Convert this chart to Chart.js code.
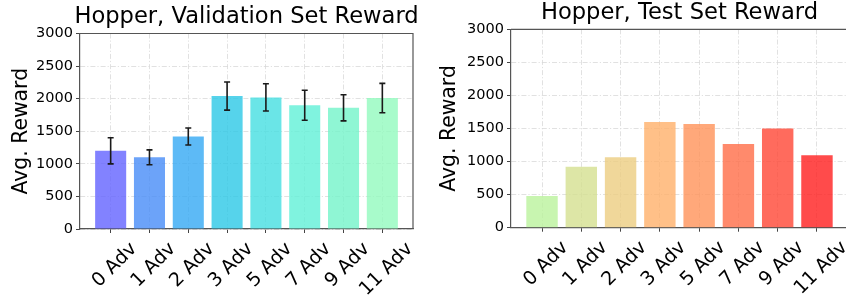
<!DOCTYPE html>
<html><head><meta charset="utf-8">
<script src="https://cdn.jsdelivr.net/npm/chart.js@4"></script>
<style>
html,body{margin:0;padding:0;background:#fff;overflow:hidden;width:846px;height:300px;position:relative;}
#c1{position:absolute;left:0;top:0;}
#c2{position:absolute;left:423px;top:0;}
</style></head><body>
<canvas id="c1" width="423" height="300"></canvas>
<canvas id="c2" width="430" height="300"></canvas>
<script>
// ---- data ----
const categories = ['0 Adv', '1 Adv', '2 Adv', '3 Adv', '5 Adv', '7 Adv', '9 Adv', '11 Adv'];
const validationReward = [1200, 1100, 1420, 2040, 2020, 1900, 1860, 2010];
const validationError = [200, 115, 130, 215, 210, 230, 200, 225];
const testReward = [480, 920, 1065, 1600, 1570, 1265, 1500, 1095];
const yTickValues = [0, 500, 1000, 1500, 2000, 2500, 3000];

// ---- styles ----
const valColors = ['rgba(99,99,255,0.8)', 'rgba(71,140,248,0.8)', 'rgba(53,169,244,0.8)', 'rgba(44,200,230,0.8)',
  'rgba(69,223,225,0.8)', 'rgba(96,240,215,0.8)', 'rgba(115,244,201,0.8)', 'rgba(146,250,190,0.8)'];
const testColors = ['rgba(186,243,156,0.8)', 'rgba(213,224,144,0.8)', 'rgba(236,205,129,0.8)', 'rgba(255,176,106,0.8)',
  'rgba(255,146,89,0.8)', 'rgba(255,109,71,0.8)', 'rgba(255,70,53,0.8)', 'rgba(255,30,30,0.8)'];
const FONT = 'DejaVu Sans';
const XFONT = 19;

const mctx = document.createElement('canvas').getContext('2d');

// centre the title over the plot area (matplotlib axes title), without squeezing it
const centerTitle = {
  id: 'centerTitle',
  afterLayout(chart) {
    const t = chart.titleBlock, a = chart.chartArea;
    if (!t) return;
    const c = (a.left + a.right) / 2;
    t.left = c - 210;
    t.right = c + 210;
  }
};

// centre each rotated x label's box on its tick (matplotlib ha='center')
const centerLabels = {
  id: 'centerLabels',
  beforeDraw(chart) {
    const s = chart.scales.x;
    const items = s.getLabelItems(chart.chartArea);
    if (items._centered) return;
    items._centered = true;
    mctx.font = XFONT + 'px "' + FONT + '"';
    items.forEach(it => {
      const w = mctx.measureText(String(it.label)).width;
      it.options.translation[0] += 0.354 * (w + 1.2 * XFONT) - 4;
    });
  }
};

const frame = {
  id: 'frame',
  afterDraw(chart) {
    const {ctx, chartArea: a} = chart;
    ctx.save();
    ctx.strokeStyle = '#555';
    ctx.lineWidth = 1.2;
    ctx.beginPath();
    ctx.moveTo(a.left, a.top);
    ctx.lineTo(a.right, a.top);
    ctx.lineTo(a.right, a.bottom);
    ctx.stroke();
    ctx.restore();
  }
};

const errorBars = {
  id: 'errorBars',
  afterDatasetsDraw(chart, args, opts) {
    if (!opts.errors) return;
    const meta = chart.getDatasetMeta(0);
    const ys = chart.scales.y;
    const ctx = chart.ctx;
    ctx.save();
    ctx.strokeStyle = '#1a1a1a';
    ctx.lineWidth = 1.6;
    meta.data.forEach((bar, i) => {
      const v = chart.data.datasets[0].data[i].y;
      const e = opts.errors[i];
      const t = ys.getPixelForValue(v + e), b = ys.getPixelForValue(v - e);
      ctx.beginPath();
      ctx.moveTo(bar.x, t); ctx.lineTo(bar.x, b);
      ctx.moveTo(bar.x - 3, t); ctx.lineTo(bar.x + 3, t);
      ctx.moveTo(bar.x - 3, b); ctx.lineTo(bar.x + 3, b);
      ctx.stroke();
    });
    ctx.restore();
  }
};

function makeChart(id, cfg) {
  const gridOpts = {color: '#d9d9d9', lineWidth: 0.8, tickColor: '#444', tickLength: 4, tickWidth: 1, tickBorderDash: []};
  const borderOpts = {display: true, color: '#555', width: 1.2, dash: [5, 2, 1.2, 2]};
  return new Chart(document.getElementById(id), {
    type: 'bar',
    data: {
      datasets: [{
        data: cfg.values.map((v, i) => ({x: i, y: v})),
        backgroundColor: cfg.colors,
        borderWidth: 0,
        barPercentage: 0.8,
        categoryPercentage: 1.0
      }]
    },
    options: {
      responsive: false,
      animation: false,
      devicePixelRatio: 1,
      layout: {padding: {left: 0, right: cfg.padRight, top: 0, bottom: 0}},
      plugins: {
        legend: {display: false},
        tooltip: {enabled: false},
        title: {
          display: true, text: cfg.title, color: '#000',
          font: {family: FONT, size: 22.6, weight: 'normal'},
          padding: cfg.titlePad
        },
        errorBars: {errors: cfg.errors}
      },
      scales: {
        x: {
          type: 'linear', min: -0.79, max: 7.79, offset: false,
          afterBuildTicks: s => { s.ticks = categories.map((_, i) => ({value: i})); },
          afterFit: s => { s.height = cfg.xHeight; },
          grid: Object.assign({offset: false}, gridOpts),
          border: borderOpts,
          ticks: {
            autoSkip: false, minRotation: 45, maxRotation: 45, padding: 5, color: '#000',
            font: {family: FONT, size: XFONT},
            callback: v => categories[v]
          }
        },
        y: {
          min: 0, max: 3000,
          afterBuildTicks: s => { s.ticks = yTickValues.map(v => ({value: v})); },
          afterFit: s => { s.width = cfg.yWidth; },
          grid: gridOpts,
          border: borderOpts,
          ticks: {padding: 3, color: '#000', font: {family: FONT, size: 14.5}, callback: v => String(v)},
          title: {
            display: true, text: 'Avg. Reward', color: '#000',
            font: {family: FONT, size: 20.4},
            padding: {top: cfg.yTitlePad, bottom: 0}
          }
        }
      }
    },
    plugins: [centerTitle, errorBars, frame, centerLabels]
  });
}

makeChart('c1', {
  title: 'Hopper, Validation Set Reward', values: validationReward, errors: validationError,
  colors: valColors, padRight: 10, xHeight: 71, yWidth: 80, yTitlePad: 9.3,
  titlePad: {top: 3.7, bottom: 2.7}
});
makeChart('c2', {
  title: 'Hopper, Test Set Reward', values: testReward, errors: null,
  colors: testColors, padRight: 5, xHeight: 72.3, yWidth: 88, yTitlePad: 14.9,
  titlePad: {top: 0, bottom: 2.2}
});
</script>
</body></html>
